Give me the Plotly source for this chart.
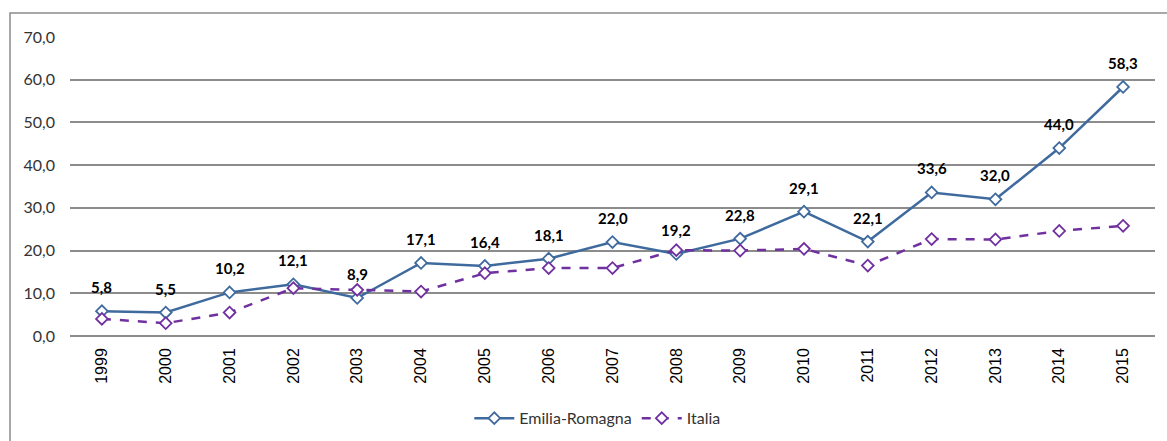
import plotly.graph_objects as go

years = ["1999","2000","2001","2002","2003","2004","2005","2006","2007","2008",
         "2009","2010","2011","2012","2013","2014","2015"]
emilia = [5.8, 5.5, 10.2, 12.1, 8.9, 17.1, 16.4, 18.1, 22.0, 19.2,
          22.8, 29.1, 22.1, 33.6, 32.0, 44.0, 58.3]
italia = [4.0, 3.0, 5.5, 11.2, 10.8, 10.4, 14.7, 15.9, 15.9, 20.1,
          20.0, 20.4, 16.5, 22.7, 22.6, 24.6, 25.8]
yticks = [0, 10, 20, 30, 40, 50, 60, 70]

BLUE = "#3F6A9E"
PURPLE = "#7030A0"
GRID = "#8C8C8C"

fig = go.Figure()
fig.add_trace(go.Scatter(
    x=years, y=emilia, name="Emilia-Romagna", mode="lines+markers",
    line=dict(color=BLUE, width=2.5),
    marker=dict(symbol="diamond", size=9, color="white", line=dict(color=BLUE, width=1.8)),
))
fig.add_trace(go.Scatter(
    x=years, y=italia, name="Italia", mode="lines+markers",
    line=dict(color=PURPLE, width=2.5, dash="dash"),
    marker=dict(symbol="diamond", size=9, color="white", line=dict(color=PURPLE, width=1.8)),
))

for i, v in enumerate(emilia):
    fig.add_annotation(x=i, y=v, xref="x", yref="y",
                       text="<b>" + f"{v:.1f}".replace(".", ",") + "</b>", showarrow=False,
                       yshift=24, font=dict(family="Lato, Liberation Sans", size=15, color="black"))

fig.update_layout(
    width=1167, height=441,
    margin=dict(l=70, r=12, t=37, b=105, autoexpand=False),
    paper_bgcolor="white", plot_bgcolor="white",
    showlegend=True,
    legend=dict(orientation="h", x=0.486, xanchor="center", y=-0.275, yanchor="middle",
                font=dict(family="Lato, Liberation Sans", size=16, color="#333333"),
                itemwidth=40, tracegroupgap=0),
    shapes=[dict(type="rect", xref="paper", yref="paper",
                 x0=(10 - 70) / 1085, x1=1.05, y0=-0.4, y1=(336 - 13) / 299,
                 line=dict(color=GRID, width=1.5), fillcolor="rgba(0,0,0,0)", layer="below")],
)
fig.update_xaxes(
    type="category", tickangle=-90, showgrid=False,
    showline=False, ticks="", automargin=False, ticklabelstandoff=8,
    tickfont=dict(family="Liberation Sans", size=16, color="black"),
    range=[-0.5, len(years) - 0.5],
)
fig.update_yaxes(
    range=[0, 70], tickvals=yticks, automargin=False,
    ticktext=[f"{t:.1f}".replace(".", ",") for t in yticks],
    showgrid=True, gridcolor=GRID, gridwidth=1.5,
    zeroline=True, zerolinecolor=GRID, zerolinewidth=1.5,
    showline=False, ticks="", ticklabelstandoff=14,
    tickfont=dict(family="Lato, Liberation Sans", size=16, color="#333333"),
)

fig.write_html("out.html", config={"displayModeBar": False},
               post_script="document.body.style.margin='0';document.body.style.overflow='hidden';")
